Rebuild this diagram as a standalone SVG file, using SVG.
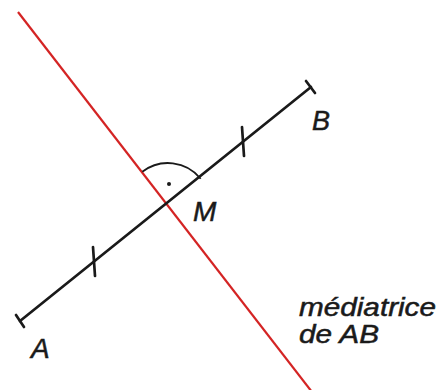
<svg xmlns="http://www.w3.org/2000/svg" width="445" height="390" viewBox="0 0 445 390">
<style>
.seg{stroke:#1a1a1a;stroke-width:2.7;fill:none;stroke-linecap:round}
.thin{stroke:#1a1a1a;stroke-width:1.8;fill:none}
.red{stroke:#d42424;stroke-width:2.2;fill:none}
.lbl{font-family:"Liberation Sans",Arial,sans-serif;font-style:italic;fill:#1a1a1a;stroke:#1a1a1a;stroke-width:0.5}
</style>
<rect width="445" height="390" fill="#ffffff"/>
<g id="connectors">
<line id="mediatrice" class="red" x1="18" y1="12" x2="312" y2="392"/>
<line id="segmentAB" class="seg" x1="20" y1="321" x2="311" y2="87"/>
<line class="seg" x1="16" y1="315" x2="24" y2="327"/>
<line class="seg" x1="306" y1="81" x2="315" y2="93"/>
<line class="seg" x1="93" y1="247" x2="95" y2="276"/>
<line class="seg" x1="242" y1="127" x2="244" y2="156"/>
<path class="thin" d="M142.3,171.8 A42,42 0 0 1 200.7,178.7"/>
<circle cx="169" cy="184" r="2" fill="#1a1a1a"/>
</g>
<g id="A"><text class="lbl" x="31" y="358" font-size="28">A</text></g>
<g id="B"><text class="lbl" x="312" y="130" font-size="27">B</text></g>
<g id="M"><text class="lbl" x="193" y="221" font-size="28">M</text></g>
<g id="label"><text class="lbl" x="299" y="316" font-size="25" textLength="137" lengthAdjust="spacingAndGlyphs">médiatrice</text><text class="lbl" x="299" y="343" font-size="25" textLength="80" lengthAdjust="spacingAndGlyphs">de AB</text></g>
</svg>
